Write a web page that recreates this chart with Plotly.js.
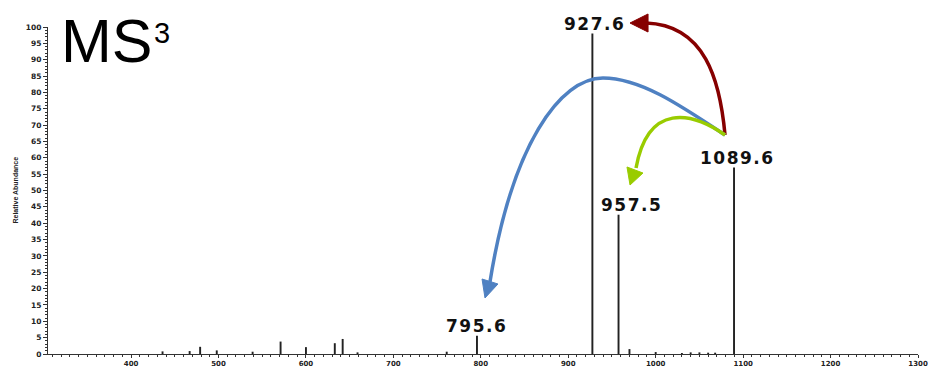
<!DOCTYPE html>
<html><head><meta charset="utf-8">
<script src="https://cdn.plot.ly/plotly-3.0.1.min.js"></script>
<style>html,body{margin:0;padding:0;background:#fff}</style>
</head><body><div id="chart" style="width:929px;height:367px"></div>
<script>
// m/z values and relative abundances
const mz = [436, 467, 479, 498, 539, 571, 600, 633, 642, 659, 761, 795.6, 927.6, 957.5, 970, 1000, 1030, 1040, 1050, 1060, 1068, 1089.6];
const abundance = [0.8, 0.9, 2.2, 1.1, 0.7, 3.8, 2.1, 3.3, 4.6, 0.5, 0.7, 5.6, 98, 42.6, 1.5, 0.6, 0.3, 0.5, 0.5, 0.4, 0.4, 57];
const labeledMz = [795.6, 927.6, 957.5, 1089.6];
const xTickVals = [400, 500, 600, 700, 800, 900, 1000, 1100, 1200, 1300];
const yTickVals = [0,5,10,15,20,25,30,35,40,45,50,55,60,65,70,75,80,85,90,95,100];

const W = 929, H = 367, L = 48, R = 11, T = 27, B = 13;
const pw = W - L - R, ph = H - T - B;
const fx = x => ((x - L) / pw).toFixed(4);
const fy = y => ((H - B - y) / ph).toFixed(4);
const P = cmds => cmds.map(c => typeof c === 'string' ? c : fx(c[0]) + ',' + fy(c[1])).join(' ');

const red = '#860000', blue = '#4f81c2', green = '#99cc00';
const curve = (d, color) => ({type:'path', xref:'paper', yref:'paper', path:P(d), line:{color:color, width:3.5}, fillcolor:'rgba(0,0,0,0)', layer:'above'});
const head = (d, color) => ({type:'path', xref:'paper', yref:'paper', path:P(d), line:{color:color, width:1}, fillcolor:color, layer:'above'});

const shapes = [
  curve(['M',[725,135],'C',[720,80],[705,25],[646,23]], red),
  head(['M',[630,23],'L',[648,14],'L',[648,32],'Z'], red),
  curve(['M',[725,135],'C',[680,105],[640,78],[603,78],'C',[560,78],[512,145],[490,282]], blue),
  head(['M',[485,298],'L',[498,284],'L',[482,279],'Z'], blue),
  curve(['M',[725,135],'C',[692,112],[648,102],[636,168]], green),
  head(['M',[630,185],'L',[643,173],'L',[627,167],'Z'], green)
];

const labelShift = {957.5: 13, 927.6: 2, 1089.6: 3, 795.6: 0};
const annotations = labeledMz.map(m => ({
  x: m, y: abundance[mz.indexOf(m)], xref:'x', yref:'y',
  text: '<span style="letter-spacing:1.5px">' + m.toFixed(1) + '</span>', showarrow:false, xanchor:'center', yanchor:'bottom',
  xshift: labelShift[m], yshift: -2,
  font:{family:'DejaVu Sans', size:17, weight:'bold', color:'#111'}
}));
annotations.push(
  {xref:'paper', yref:'paper', x: fx(59), y: fy(41), xanchor:'left', yanchor:'middle', text:'MS', showarrow:false,
   font:{family:'Liberation Sans', size:61, color:'#000'}},
  {xref:'paper', yref:'paper', x: fx(152), y: fy(33), xanchor:'left', yanchor:'middle', text:'3', showarrow:false,
   font:{family:'Liberation Sans', size:29, color:'#000'}},
  {xref:'paper', yref:'paper', x: fx(15), y: 0.5, xanchor:'center', yanchor:'middle', textangle:-90, text:'Relative Abundance', showarrow:false,
   font:{family:'Liberation Sans', size:7, weight:'bold', color:'#222'}}
);

const yTickFont = {family:'DejaVu Sans', size:7.5, weight:'bold', color:'#222'};
const xTickFont = {family:'DejaVu Sans', size:7, weight:'bold', color:'#222'};
const data = [{
  type:'bar', x: mz, y: abundance, width: 2.2,
  marker:{color:'#222', line:{width:0}}, hoverinfo:'x+y'
}];
const layout = {
  width: W, height: H, margin:{l:L, r:R, t:T, b:B},
  paper_bgcolor:'#fff', plot_bgcolor:'#fff', showlegend:false,
  xaxis:{range:[305,1300], tickvals:xTickVals, ticks:'outside', ticklen:3, tickwidth:1, tickcolor:'#333',
    showline:true, linecolor:'#333', linewidth:1, showgrid:false, zeroline:false, tickfont:xTickFont,
    minor:{dtick:10, tick0:0, ticks:'outside', ticklen:2, tickcolor:'#333', showgrid:false}},
  yaxis:{range:[0,100], tickvals:yTickVals, ticks:'outside', ticklen:4, tickwidth:1, tickcolor:'#333',
    showline:true, linecolor:'#333', linewidth:1, showgrid:false, zeroline:false, tickfont:yTickFont,
    minor:{dtick:1, tick0:0, ticks:'outside', ticklen:2, tickcolor:'#333', showgrid:false}},
  shapes: shapes, annotations: annotations
};
Plotly.newPlot('chart', data, layout, {displayModeBar:false, staticPlot:true});
</script></body></html>
